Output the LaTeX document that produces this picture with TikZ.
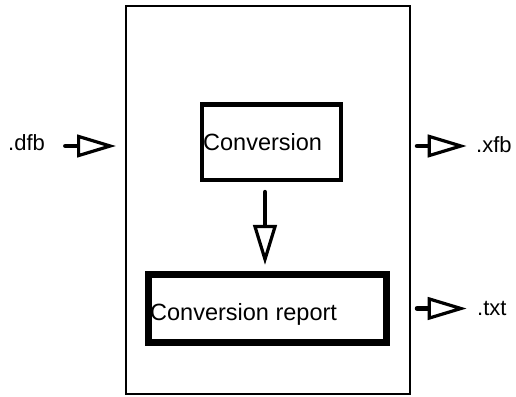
\documentclass[tikz,border=0pt]{standalone}
\usepackage{fontspec}
\setmainfont{Liberation Sans}
\usetikzlibrary{arrows.meta}

\begin{document}
\begin{tikzpicture}[x=1pt, y=-1pt,
  frame/.style={draw, line width=2pt, inner sep=0pt},
  procbox/.style={draw, line width=4.4pt, inner sep=0pt},
  reportbox/.style={draw, line width=6.7pt, inner sep=0pt},
  boxtext/.style={inner sep=0pt, anchor=base west, font=\fontsize{23.5}{26}\selectfont},
  filetext/.style={inner sep=0pt, anchor=base west, font=\fontsize{22}{25}\selectfont},
  flow/.style={line width=4.5pt, line cap=round,
    -{Triangle[open, length=39pt, width=22.5pt, line width=3.2pt]}},
  downflow/.style={line width=4.5pt, line cap=round,
    -{Triangle[open, length=40pt, width=23.5pt, line width=3.2pt]}}
]
\useasboundingbox (0,0) rectangle (516,396);

% system boundary
\node[frame, minimum width=284pt, minimum height=388.3pt] (system) at (268,199.85) {};

% processing steps
\node[procbox, minimum width=138.8pt, minimum height=75.3pt] (conv) at (271.4,142.2) {};
\node[boxtext] (convtext) at (203,150) {Conversion};

\node[reportbox, minimum width=238.2pt, minimum height=68.2pt] (report) at (267.6,308.4) {};
\node[boxtext] (reporttext) at (150,320) {Conversion report};

% file labels
\node[filetext] (dfb) at (8,150) {.dfb};
\node[filetext] (xfb) at (476,152.3) {.xfb};
\node[filetext] (txt) at (477,315) {.txt};

% arrow ends
\coordinate (dfbtail) at (65.3,146);
\coordinate (xfbtip) at (466.7,146);
\coordinate (txttip) at (466.7,308.5);

% data flow
\draw[flow, shorten >=9pt] (dfbtail) -- (system.west |- dfbtail);
\draw[flow, shorten <=6pt] (system.east |- xfbtip) -- (xfbtip);
\draw[flow, shorten <=6pt] (system.east |- txttip) -- (txttip);
\draw[downflow, shorten <=10pt, shorten >=6pt]
  ([xshift=-6.4pt]conv.south) -- ([xshift=-2.6pt]report.north);
\end{tikzpicture}
\end{document}
